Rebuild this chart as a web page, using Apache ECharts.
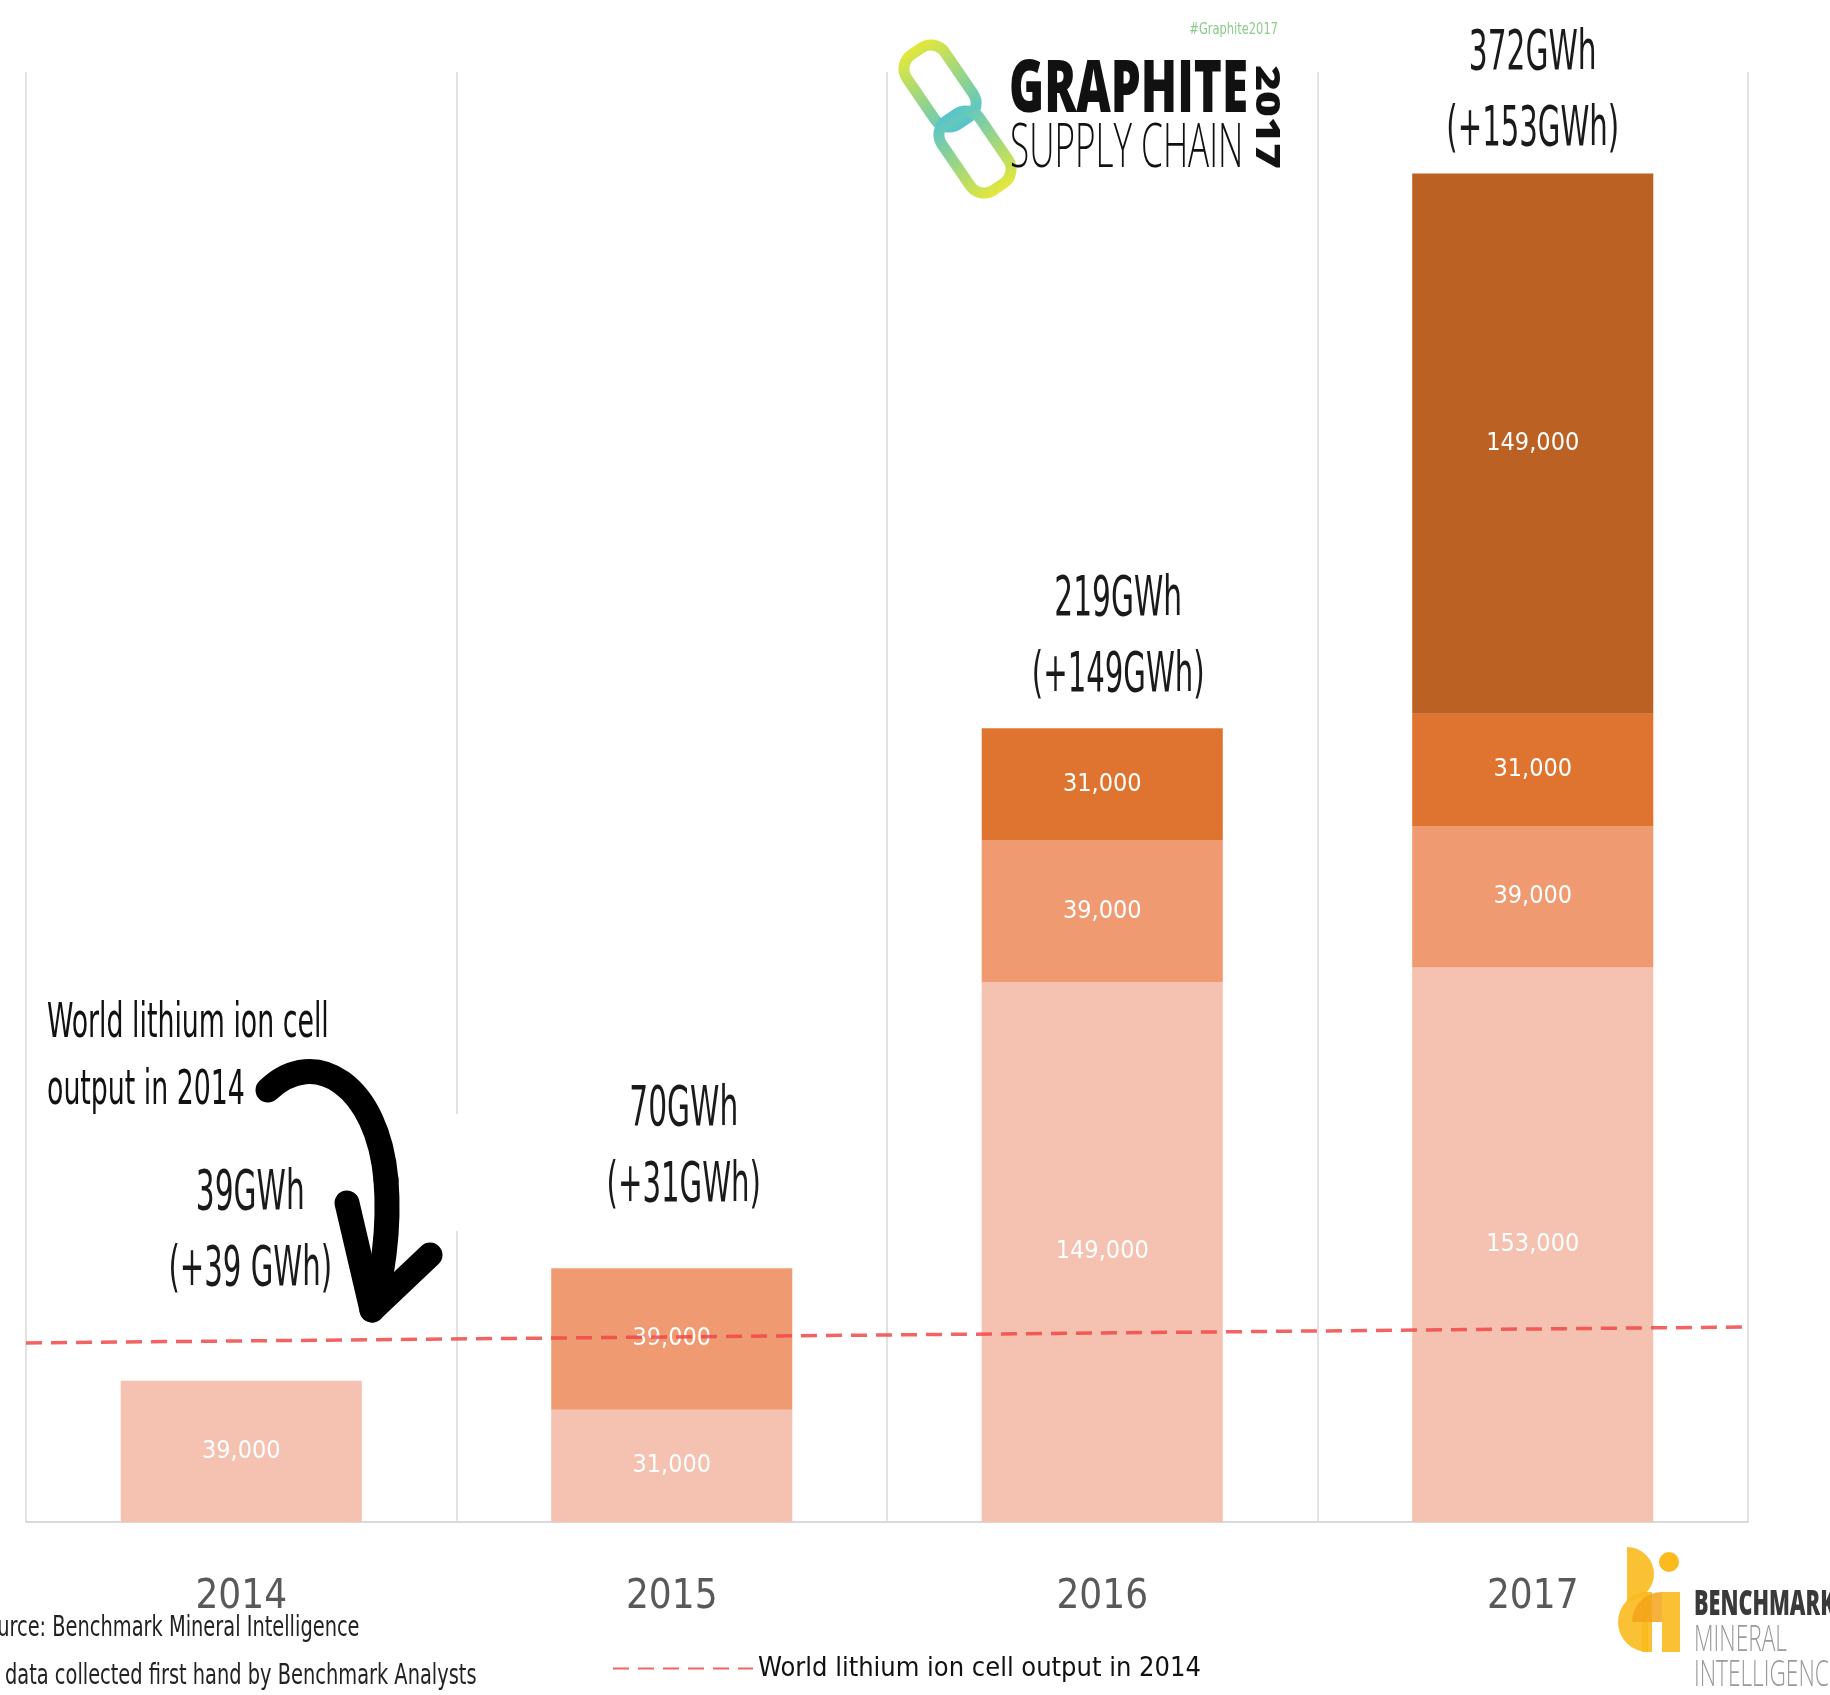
<!DOCTYPE html>
<html>
<head>
<meta charset="utf-8">
<title>World lithium ion cell output</title>
<script src="https://cdn.jsdelivr.net/npm/echarts@6/dist/echarts.min.js"></script>
<style>
  html, body { margin: 0; padding: 0; background: #fff; overflow: hidden; }
  #chart { width: 1830px; height: 1695px; }
</style>
</head>
<body>
<div id="chart"></div>
<script>
// values (MWh, stacked from newest at the bottom)
const years = ['2014', '2015', '2016', '2017'];
const newOutput = [39000, 31000, 149000, 153000];
const from2014 = [null, 39000, 39000, 39000];
const from2015 = [null, null, 31000, 31000];
const from2016 = [null, null, null, 149000];
const totalText = ['39GWh', '70GWh', '219GWh', '372GWh'];
const addedText = ['(+39 GWh)', '(+31GWh)', '(+149GWh)', '(+153GWh)'];
const totals = [39000, 70000, 219000, 372000];
// hand drawn 2014 level line, value at left and right end of the plot
const line2014 = [49400, 53800];

const COND = '"DejaVu Sans Condensed", "Liberation Sans", sans-serif';
const LOGO = '"Open Sans", "Noto Sans", sans-serif';

// layout of the total labels above each bar (px)
const labelLift = [110, 82, 51, 43];
const labelShift = [9, 12, 16, 0];

const chart = echarts.init(document.getElementById('chart'));

function segLabel() {
  return {
    show: true,
    position: 'inside',
    color: '#fff',
    fontSize: 25,
    fontFamily: COND,
    formatter: p => p.value.toLocaleString('en-US')
  };
}

function stackBar(name, data, color) {
  return {
    name, type: 'bar', stack: 'cap', data,
    barWidth: '56%',
    itemStyle: { color },
    label: segLabel(),
    emphasis: { disabled: true }
  };
}

function linkGradient(a, b) {
  return { type: 'linear', x: 0, y: 0, x2: 0, y2: 1, colorStops: [{ offset: 0, color: a }, { offset: 1, color: b }] };
}

const arrowStyle = { fill: null, stroke: '#000', lineWidth: 25, lineCap: 'round', lineJoin: 'round' };

chart.setOption({
  animation: false,
  grid: { left: 26, right: 82, top: 72, bottom: 173 },
  legend: {
    data: ['World lithium ion cell output in 2014'],
    left: 607, top: 1650,
    itemWidth: 140, itemHeight: 14,
    itemStyle: { opacity: 0 },
    textStyle: { fontSize: 27, fontFamily: COND, color: '#111' }
  },
  xAxis: [{
    type: 'category',
    data: years,
    boundaryGap: true,
    axisLine: { lineStyle: { color: '#D9D9D9', width: 2 } },
    axisTick: { show: false },
    splitLine: { show: true, lineStyle: { color: '#D9D9D9', width: 1.5 } },
    axisLabel: { fontSize: 40, fontFamily: COND, color: '#595959', margin: 56 }
  }, {
    type: 'value', min: 0, max: 1, show: false
  }],
  yAxis: { type: 'value', min: 0, max: 400000, show: false, splitLine: { show: false } },
  series: [
    stackBar('New output', newOutput, '#F5C2B1'),
    stackBar('2014 output', from2014, '#F09A71'),
    stackBar('2015 additions', from2015, '#DF7430'),
    stackBar('2016 additions', from2016, '#BB6124'),
    {
      name: 'World lithium ion cell output in 2014',
      type: 'line',
      xAxisIndex: 1,
      data: [[0, line2014[0]], [1, line2014[1]]],
      symbol: 'none',
      z: 5,
      lineStyle: { color: '#F04848', width: 3.5, type: [16, 9], opacity: 0.85 },
      itemStyle: { color: '#F04848' }
    },
    {
      name: 'totals',
      type: 'custom',
      z: 6,
      data: years.map((y, i) => [i, totals[i]]),
      renderItem(params, api) {
        const i = params.dataIndex;
        const p = api.coord([api.value(0), api.value(1)]);
        const cx = p[0] + labelShift[i];
        const y2 = p[1] - labelLift[i];
        const st = t => ({
          text: t, fontSize: 55, fontFamily: COND, fill: '#1a1a1a',
          align: 'center', verticalAlign: 'middle'
        });
        return {
          type: 'group',
          children: [
            { type: 'text', x: cx, y: y2 - 76, scaleX: 0.6, style: st(totalText[i]) },
            { type: 'text', x: cx, y: y2, scaleX: 0.59, style: st(addedText[i]) }
          ]
        };
      }
    }
  ],
  graphic: [
    // annotation at the left, its pasted arrow hides a bit of the grid line
    { type: 'rect', z: 3, shape: { x: 448, y: 1114, width: 16, height: 117 }, style: { fill: '#fff' } },
    { type: 'text', x: 47, y: 1025, scaleX: 0.62, style: { text: 'World lithium ion cell', fontSize: 48, fontFamily: COND, fill: '#111', verticalAlign: 'middle' } },
    { type: 'text', x: 47, y: 1092, scaleX: 0.62, style: { text: 'output in 2014', fontSize: 48, fontFamily: COND, fill: '#111', verticalAlign: 'middle' } },
    { type: 'bezierCurve', z: 10, shape: { x1: 268, y1: 1090, cpx1: 315, cpy1: 1045, cpx2: 378, cpy2: 1085, x2: 386, y2: 1180 }, style: arrowStyle },
    { type: 'bezierCurve', z: 10, shape: { x1: 386, y1: 1180, cpx1: 390, cpy1: 1230, cpx2: 382, cpy2: 1280, x2: 372, y2: 1310 }, style: arrowStyle },
    { type: 'polyline', z: 10, shape: { points: [[347, 1203], [372, 1310], [430, 1255]] }, style: arrowStyle },
    // source notes
    { type: 'text', x: -27, y: 1629, scaleX: 0.77, style: { text: 'Source: Benchmark Mineral Intelligence', fontSize: 28, fontFamily: COND, fill: '#222', verticalAlign: 'middle' } },
    { type: 'text', x: 5, y: 1677, scaleX: 0.77, style: { text: 'data collected first hand by Benchmark Analysts', fontSize: 28, fontFamily: COND, fill: '#222', verticalAlign: 'middle' } },
    // Graphite Supply Chain 2017 logo
    { type: 'rect', x: 940, y: 86, rotation: 0.6, shape: { x: -23, y: -42, width: 46, height: 84, r: 17 },
      style: { fill: null, lineWidth: 11, stroke: linkGradient('#E4E83A', '#55C4CC') } },
    { type: 'rect', x: 975, y: 152, rotation: 0.6, shape: { x: -23, y: -42, width: 46, height: 84, r: 17 },
      style: { fill: null, lineWidth: 11, stroke: linkGradient('#55C4CC', '#E4E83A') } },
    { type: 'text', x: 1278, y: 30, scaleX: 0.85, style: { text: '#Graphite2017', fontSize: 15, fontFamily: COND, fill: '#8CCB8C', align: 'right', verticalAlign: 'middle' } },
    { type: 'text', x: 1009, y: 91, scaleX: 0.66, style: { text: 'GRAPHITE', fontSize: 72, fontWeight: 800, fontFamily: LOGO, fill: '#111', verticalAlign: 'middle' } },
    { type: 'text', x: 1010, y: 150, scaleX: 0.585, style: { text: 'SUPPLY CHAIN', fontSize: 60, fontWeight: 300, fontFamily: LOGO, fill: '#111', verticalAlign: 'middle' } },
    { type: 'text', x: 1266, y: 117, rotation: -Math.PI / 2, scaleX: 1.3, style: { text: '2017', fontSize: 34, fontWeight: 800, fontFamily: LOGO, fill: '#111', align: 'center', verticalAlign: 'middle' } },
    // Benchmark Mineral Intelligence logo
    { type: 'sector', shape: { cx: 1627, cy: 1574, r0: 0, r: 27, startAngle: -Math.PI / 2, endAngle: Math.PI / 2 }, style: { fill: '#FBBA1E', opacity: 0.9 } },
    { type: 'circle', shape: { cx: 1669, cy: 1562, r: 10 }, style: { fill: '#FBBA1E' } },
    { type: 'sector', shape: { cx: 1648, cy: 1622, r0: 0, r: 30, startAngle: Math.PI / 2, endAngle: Math.PI * 1.5 }, style: { fill: '#FBBA1E', opacity: 0.9 } },
    { type: 'rect', shape: { x: 1642, y: 1592, width: 10, height: 60 }, style: { fill: '#FBBA1E', opacity: 0.9 } },
    { type: 'rect', shape: { x: 1662, y: 1592, width: 18, height: 60 }, style: { fill: '#FBBA1E', opacity: 0.9 } },
    { type: 'sector', shape: { cx: 1662, cy: 1622, r0: 0, r: 30, startAngle: Math.PI, endAngle: Math.PI * 1.5 }, style: { fill: '#F5A31A', opacity: 0.85 } },
    { type: 'text', x: 1694, y: 1605, scaleX: 0.6, style: { text: 'BENCHMARK', fontSize: 36, fontWeight: 800, fontFamily: LOGO, fill: '#3A3A3A', verticalAlign: 'middle' } },
    { type: 'text', x: 1694, y: 1641, scaleX: 0.63, style: { text: 'MINERAL', fontSize: 36, fontWeight: 300, fontFamily: LOGO, fill: '#9A9A9A', verticalAlign: 'middle' } },
    { type: 'text', x: 1694, y: 1676, scaleX: 0.63, style: { text: 'INTELLIGENCE', fontSize: 36, fontWeight: 300, fontFamily: LOGO, fill: '#9A9A9A', verticalAlign: 'middle' } }
  ]
});
</script>
</body>
</html>
